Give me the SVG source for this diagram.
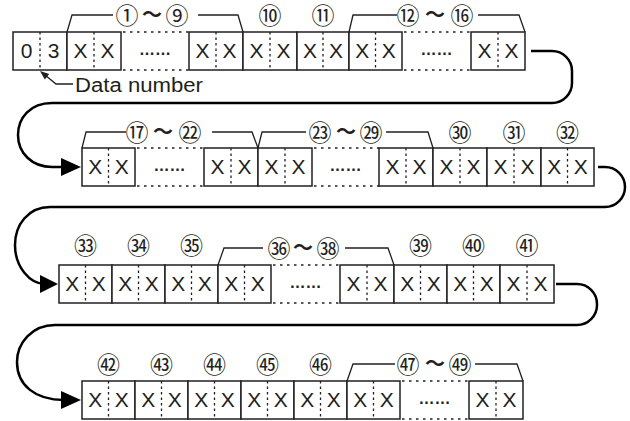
<svg xmlns="http://www.w3.org/2000/svg" width="630" height="421" viewBox="0 0 630 421">
<style>
.box{fill:#fff;stroke:#231f20;stroke-width:1.5}
.div{stroke:#231f20;stroke-width:1.3;stroke-dasharray:2.5 3}
.dot{stroke:#231f20;stroke-width:1.4;stroke-dasharray:2.5 4.5}
.x{font-family:"Liberation Sans",Arial,sans-serif;font-size:21px;text-anchor:middle;fill:#231f20}
.el{font-family:"Liberation Sans",Arial,sans-serif;font-size:16px;font-weight:bold;text-anchor:middle;fill:#231f20}
.num{font-family:"Noto Sans CJK JP","DejaVu Sans",sans-serif;font-size:23px;text-anchor:middle;fill:#231f20}
.til{font-family:"Noto Sans CJK JP",sans-serif;font-size:20px;font-weight:bold;text-anchor:middle;fill:#231f20}
.brk{fill:none;stroke:#231f20;stroke-width:1.3}
.conn{fill:none;stroke:#000;stroke-width:2.5}
.lbl{font-family:"Liberation Sans",Arial,sans-serif;font-size:20px;fill:#231f20}
</style>
<rect width="630" height="421" fill="#fff"/>

<g id="connectors">
<path class="conn" d="M531,51 H552 A20,20 0 0 1 572,71 V83 A20,20 0 0 1 552,103 H52 C30,103 18,118 18,135 C18,153 32,167 52,167 H64"/>
<polygon points="81,167 61,158 61,176" fill="#000"/>
<path class="conn" d="M598,167 H605 A20,20 0 0 1 625,187 A20,20 0 0 1 605,207 H50 C28,207 15,225 15,245 C15,267 30,284 45,284"/>
<polygon points="58,284 40,275 40,293" fill="#000"/>
<path class="conn" d="M556,284 H577 A20,20 0 0 1 597,304 V305 A20,20 0 0 1 577,325 H55 C32,325 17,343 17,362 C17,385 35,400 64,400"/>
<polygon points="81,400 61,391 61,409" fill="#000"/>
<path fill="none" stroke="#231f20" stroke-width="1.3" d="M45,75 L56,84 H73"/>
<polygon points="40,71 49.2,74 44.8,79.4" fill="#231f20"/>
</g>

<g id="brackets">
<path class="brk" d="M67,32 L72,15 H113 M198,15 H238 L243,32"/>
<path class="brk" d="M349,32 L353,15 H397 M478,15 H519 L525,32"/>
<path class="brk" d="M82,148 L86,132 H126 M212,132 H252 L258,148"/>
<path class="brk" d="M258,148 L262,132 H306 M386,132 H428 L433,148"/>
<path class="brk" d="M218,265 L224,248 H263 M345,248 H388 L394,265"/>
<path class="brk" d="M347,381 L353,364 H395 M475,364 H517 L523,381"/>
<text class="num" x="127" y="24">①</text><text class="til" x="152" y="22">～</text><text class="num" x="177" y="24">⑨</text>
<text class="num" x="408" y="24">⑫</text><text class="til" x="435" y="22">～</text><text class="num" x="462" y="24">⑯</text>
<text class="num" x="137" y="141">⑰</text><text class="til" x="163" y="139">～</text><text class="num" x="190" y="141">㉒</text>
<text class="num" x="320" y="141">㉓</text><text class="til" x="346" y="139">～</text><text class="num" x="371" y="141">㉙</text>
<text class="num" x="279" y="257">㊱</text><text class="til" x="303" y="255">～</text><text class="num" x="328" y="257">㊳</text>
<text class="num" x="408" y="373">㊼</text><text class="til" x="435" y="371">～</text><text class="num" x="460" y="373">㊾</text>
</g>

<g id="labels">
<text class="num" x="270" y="24">⑩</text>
<text class="num" x="323" y="24">⑪</text>
<text class="num" x="460" y="141">㉚</text>
<text class="num" x="514" y="141">㉛</text>
<text class="num" x="567.5" y="141">㉜</text>
<text class="num" x="85.5" y="254">㉝</text>
<text class="num" x="138.5" y="254">㉞</text>
<text class="num" x="191.5" y="254">㉟</text>
<text class="num" x="420.5" y="254">㊴</text>
<text class="num" x="473.5" y="254">㊵</text>
<text class="num" x="527" y="254">㊶</text>
<text class="num" x="108.5" y="373">㊷</text>
<text class="num" x="161.5" y="373">㊸</text>
<text class="num" x="214.5" y="373">㊹</text>
<text class="num" x="267.5" y="373">㊺</text>
<text class="num" x="320.5" y="373">㊻</text>
<text class="lbl" x="75" y="92" textLength="128" lengthAdjust="spacingAndGlyphs">Data number</text>
</g>

<!-- Row 1 -->
<g id="r1c1"><rect class="box" x="13" y="32" width="54" height="38"/><line class="div" x1="40" y1="32" x2="40" y2="70"/><text class="x" x="26.5" y="58">0</text><text class="x" x="53.5" y="58">3</text></g>
<g id="r1c2"><rect class="box" x="67" y="32" width="54" height="38"/><line class="div" x1="94" y1="32" x2="94" y2="70"/><text class="x" x="80.5" y="58">X</text><text class="x" x="107.5" y="58">X</text></g>
<g id="r1d1"><line class="dot" x1="123" y1="32" x2="189" y2="32"/><line class="dot" x1="123" y1="70" x2="189" y2="70"/><text class="el" x="155" y="55">……</text></g>
<g id="r1c3"><rect class="box" x="189" y="32" width="54" height="38"/><line class="div" x1="216" y1="32" x2="216" y2="70"/><text class="x" x="202.5" y="58">X</text><text class="x" x="229.5" y="58">X</text></g>
<g id="r1c4"><rect class="box" x="243" y="32" width="54" height="38"/><line class="div" x1="270" y1="32" x2="270" y2="70"/><text class="x" x="256.5" y="58">X</text><text class="x" x="283.5" y="58">X</text></g>
<g id="r1c5"><rect class="box" x="297" y="32" width="52" height="38"/><line class="div" x1="323" y1="32" x2="323" y2="70"/><text class="x" x="310" y="58">X</text><text class="x" x="336" y="58">X</text></g>
<g id="r1c6"><rect class="box" x="349" y="32" width="53" height="38"/><line class="div" x1="375.5" y1="32" x2="375.5" y2="70"/><text class="x" x="362.25" y="58">X</text><text class="x" x="388.75" y="58">X</text></g>
<g id="r1d2"><line class="dot" x1="404" y1="32" x2="471" y2="32"/><line class="dot" x1="404" y1="70" x2="471" y2="70"/><text class="el" x="436.5" y="55">……</text></g>
<g id="r1c7"><rect class="box" x="471" y="32" width="54" height="38"/><line class="div" x1="498" y1="32" x2="498" y2="70"/><text class="x" x="484.5" y="58">X</text><text class="x" x="511.5" y="58">X</text></g>

<!-- Row 2 -->
<g id="r2c1"><rect class="box" x="82" y="148" width="53" height="38"/><line class="div" x1="108.5" y1="148" x2="108.5" y2="186"/><text class="x" x="95.25" y="174">X</text><text class="x" x="121.75" y="174">X</text></g>
<g id="r2d1"><line class="dot" x1="137" y1="148" x2="204" y2="148"/><line class="dot" x1="137" y1="186" x2="204" y2="186"/><text class="el" x="169.5" y="171">……</text></g>
<g id="r2c2"><rect class="box" x="204" y="148" width="54" height="38"/><line class="div" x1="231" y1="148" x2="231" y2="186"/><text class="x" x="217.5" y="174">X</text><text class="x" x="244.5" y="174">X</text></g>
<g id="r2c3"><rect class="box" x="258" y="148" width="54" height="38"/><line class="div" x1="285" y1="148" x2="285" y2="186"/><text class="x" x="271.5" y="174">X</text><text class="x" x="298.5" y="174">X</text></g>
<g id="r2d2"><line class="dot" x1="314" y1="148" x2="379" y2="148"/><line class="dot" x1="314" y1="186" x2="379" y2="186"/><text class="el" x="345.5" y="171">……</text></g>
<g id="r2c4"><rect class="box" x="379" y="148" width="54" height="38"/><line class="div" x1="406" y1="148" x2="406" y2="186"/><text class="x" x="392.5" y="174">X</text><text class="x" x="419.5" y="174">X</text></g>
<g id="r2c5"><rect class="box" x="433" y="148" width="54" height="38"/><line class="div" x1="460" y1="148" x2="460" y2="186"/><text class="x" x="446.5" y="174">X</text><text class="x" x="473.5" y="174">X</text></g>
<g id="r2c6"><rect class="box" x="487" y="148" width="54" height="38"/><line class="div" x1="514" y1="148" x2="514" y2="186"/><text class="x" x="500.5" y="174">X</text><text class="x" x="527.5" y="174">X</text></g>
<g id="r2c7"><rect class="box" x="541" y="148" width="53" height="38"/><line class="div" x1="567.5" y1="148" x2="567.5" y2="186"/><text class="x" x="554.25" y="174">X</text><text class="x" x="580.75" y="174">X</text></g>

<!-- Row 3 -->
<g id="r3c1"><rect class="box" x="59" y="265" width="53" height="38"/><line class="div" x1="85.5" y1="265" x2="85.5" y2="303"/><text class="x" x="72.25" y="291">X</text><text class="x" x="98.75" y="291">X</text></g>
<g id="r3c2"><rect class="box" x="112" y="265" width="53" height="38"/><line class="div" x1="138.5" y1="265" x2="138.5" y2="303"/><text class="x" x="125.25" y="291">X</text><text class="x" x="151.75" y="291">X</text></g>
<g id="r3c3"><rect class="box" x="165" y="265" width="53" height="38"/><line class="div" x1="191.5" y1="265" x2="191.5" y2="303"/><text class="x" x="178.25" y="291">X</text><text class="x" x="204.75" y="291">X</text></g>
<g id="r3c4"><rect class="box" x="218" y="265" width="53" height="38"/><line class="div" x1="244.5" y1="265" x2="244.5" y2="303"/><text class="x" x="231.25" y="291">X</text><text class="x" x="257.75" y="291">X</text></g>
<g id="r3d1"><line class="dot" x1="273" y1="265" x2="340" y2="265"/><line class="dot" x1="273" y1="303" x2="340" y2="303"/><text class="el" x="305.5" y="288">……</text></g>
<g id="r3c5"><rect class="box" x="340" y="265" width="54" height="38"/><line class="div" x1="367" y1="265" x2="367" y2="303"/><text class="x" x="353.5" y="291">X</text><text class="x" x="380.5" y="291">X</text></g>
<g id="r3c6"><rect class="box" x="394" y="265" width="53" height="38"/><line class="div" x1="420.5" y1="265" x2="420.5" y2="303"/><text class="x" x="407.25" y="291">X</text><text class="x" x="433.75" y="291">X</text></g>
<g id="r3c7"><rect class="box" x="447" y="265" width="53" height="38"/><line class="div" x1="473.5" y1="265" x2="473.5" y2="303"/><text class="x" x="460.25" y="291">X</text><text class="x" x="486.75" y="291">X</text></g>
<g id="r3c8"><rect class="box" x="500" y="265" width="54" height="38"/><line class="div" x1="527" y1="265" x2="527" y2="303"/><text class="x" x="513.5" y="291">X</text><text class="x" x="540.5" y="291">X</text></g>

<!-- Row 4 -->
<g id="r4c1"><rect class="box" x="82" y="381" width="53" height="38"/><line class="div" x1="108.5" y1="381" x2="108.5" y2="419"/><text class="x" x="95.25" y="407">X</text><text class="x" x="121.75" y="407">X</text></g>
<g id="r4c2"><rect class="box" x="135" y="381" width="53" height="38"/><line class="div" x1="161.5" y1="381" x2="161.5" y2="419"/><text class="x" x="148.25" y="407">X</text><text class="x" x="174.75" y="407">X</text></g>
<g id="r4c3"><rect class="box" x="188" y="381" width="53" height="38"/><line class="div" x1="214.5" y1="381" x2="214.5" y2="419"/><text class="x" x="201.25" y="407">X</text><text class="x" x="227.75" y="407">X</text></g>
<g id="r4c4"><rect class="box" x="241" y="381" width="53" height="38"/><line class="div" x1="267.5" y1="381" x2="267.5" y2="419"/><text class="x" x="254.25" y="407">X</text><text class="x" x="280.75" y="407">X</text></g>
<g id="r4c5"><rect class="box" x="294" y="381" width="53" height="38"/><line class="div" x1="320.5" y1="381" x2="320.5" y2="419"/><text class="x" x="307.25" y="407">X</text><text class="x" x="333.75" y="407">X</text></g>
<g id="r4c6"><rect class="box" x="347" y="381" width="53" height="38"/><line class="div" x1="373.5" y1="381" x2="373.5" y2="419"/><text class="x" x="360.25" y="407">X</text><text class="x" x="386.75" y="407">X</text></g>
<g id="r4d1"><line class="dot" x1="402" y1="381" x2="469" y2="381"/><line class="dot" x1="402" y1="419" x2="469" y2="419"/><text class="el" x="434.5" y="404">……</text></g>
<g id="r4c7"><rect class="box" x="469" y="381" width="54" height="38"/><line class="div" x1="496" y1="381" x2="496" y2="419"/><text class="x" x="482.5" y="407">X</text><text class="x" x="509.5" y="407">X</text></g>
</svg>
